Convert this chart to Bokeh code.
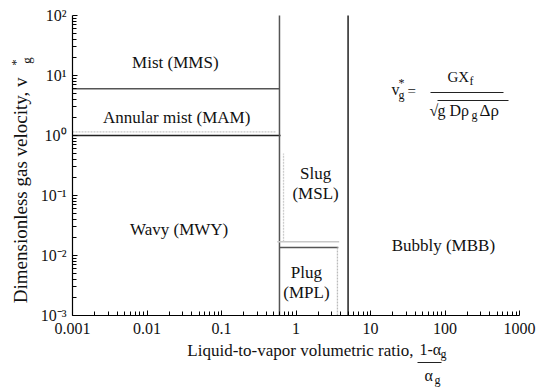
from bokeh.plotting import figure
from bokeh.models import FixedTicker, Label, ColumnDataSource, LogAxis
from bokeh.core.properties import value
from bokeh.embed import file_html
from bokeh.resources import INLINE

# Axis decades and their labels
x_ticks = [0.001, 0.01, 0.1, 1, 10, 100, 1000]
x_tick_labels = ["0.001", "0.01", "0.1", "1", "10", "100", "1000"]
y_ticks = [0.001, 0.01, 0.1, 1, 10, 100]
y_tick_labels = ["10\u207b\u00b3", "10\u207b\u00b2", "10\u207b\u00b9", "10\u2070", "10\u00b9", "10\u00b2"]

# Flow-regime boundaries (x = liquid-to-vapor volumetric ratio, y = v*_g)
mist_annular_y = 6.0
mist_annular_x = [0.001, 0.6]
annular_wavy_y = 1.0
annular_wavy_x = [0.001, 0.62]
annular_alt_y = 1.15
annular_alt_x = [0.001, 0.53]
wavy_slug_x = 0.6
wavy_slug_y = [0.001, 100]
slug_bubbly_x = 5.0
slug_bubbly_y = [0.001, 100]
plug_top_y = 0.0136
plug_top_x = [0.6, 3.7]
plug_alt_y = 0.017
plug_alt_x = [0.56, 3.8]
plug_right_x = 3.6
plug_right_y = [0.001, 0.0136]
slug_alt_x = 0.68
slug_alt_y = [0.017, 0.5]

# Regime names
regime_text = ["Mist (MMS)", "Annular mist (MAM)", "Wavy (MWY)", "Slug", "(MSL)",
               "Plug", "(MPL)", "Bubbly (MBB)"]
regime_x = [0.024, 0.025, 0.027, 1.83, 1.83, 1.38, 1.38, 95]
regime_y = [16.5, 2.0, 0.027, 0.233, 0.108, 0.0052, 0.0024, 0.0147]

SERIF = "Liberation Serif"

# page geometry: the plotting area spans the whole page and the axes sit
# inside it, so that the titles around them can be placed freely
W, H = 538, 387
LEFT, RIGHT, TOP, BOTTOM = 72, 519, 15, 315
DEC_X = (RIGHT - LEFT) / 6.0
DEC_Y = (BOTTOM - TOP) / 5.0
x_lo = 10 ** (-3 - LEFT / DEC_X)
x_hi = 10 ** (3 + (W - RIGHT) / DEC_X)
y_lo = 10 ** (-3 - (H - BOTTOM) / DEC_Y)
y_hi = 10 ** (2 + TOP / DEC_Y)

p = figure(width=W, height=H, x_axis_type="log", y_axis_type="log",
           x_axis_location=None, y_axis_location=None,
           x_range=(x_lo, x_hi), y_range=(y_lo, y_hi),
           output_backend="svg", toolbar_location=None, min_border=0)
p.outline_line_color = None
p.grid.visible = False
p.background_fill_color = "white"
p.border_fill_color = "white"

x_minor = [m * d for d in x_ticks[:-1] for m in range(2, 10)]
y_minor = [m * d for d in y_ticks[:-1] for m in range(2, 10)]
xaxis = LogAxis(fixed_location=y_ticks[0], bounds=(x_ticks[0], x_ticks[-1]),
                ticker=FixedTicker(ticks=x_ticks, minor_ticks=x_minor),
                major_label_overrides=dict(zip(x_ticks, x_tick_labels)))
yaxis = LogAxis(fixed_location=x_ticks[0], bounds=(y_ticks[0], y_ticks[-1]),
                ticker=FixedTicker(ticks=y_ticks, minor_ticks=y_minor),
                major_label_overrides=dict(zip(y_ticks, y_tick_labels)))
for ax in (xaxis, yaxis):
    ax.axis_line_color = "black"
    ax.axis_line_width = 1.2
    ax.major_tick_in = 5
    ax.major_tick_out = 0
    ax.minor_tick_in = 4
    ax.minor_tick_out = 0
    ax.major_tick_line_color = "black"
    ax.minor_tick_line_color = "black"
    ax.major_label_text_font = SERIF
    ax.major_label_text_font_size = "16px"
    ax.major_label_text_color = "#111111"
xaxis.major_label_standoff = 7
yaxis.major_label_standoff = 6
p.add_layout(xaxis, "below")
p.add_layout(yaxis, "left")

# boundaries
p.line(mist_annular_x, [mist_annular_y] * 2, line_color="#555555", line_width=1.5)
p.line(annular_wavy_x, [annular_wavy_y] * 2, line_color="#222222", line_width=1.6)
p.line(annular_alt_x, [annular_alt_y] * 2, line_color="#c8c8c8", line_width=1.3, line_dash="2 1")
p.line([wavy_slug_x] * 2, wavy_slug_y, line_color="#555555", line_width=1.5)
p.line([slug_bubbly_x] * 2, slug_bubbly_y, line_color="#111111", line_width=1.4)
p.line(plug_top_x, [plug_top_y] * 2, line_color="#555555", line_width=1.6)
p.line(plug_alt_x, [plug_alt_y] * 2, line_color="#c8c8c8", line_width=1.5)
p.line([plug_right_x] * 2, plug_right_y, line_color="#bbbbbb", line_width=1.3, line_dash="2 1")
p.line([slug_alt_x] * 2, slug_alt_y, line_color="#cccccc", line_width=1.3, line_dash="2 1")

# regime names
src = ColumnDataSource(dict(x=regime_x, y=regime_y, t=regime_text))
p.text(x="x", y="y", text="t", source=src, text_font=value(SERIF),
       text_font_size="17px", text_align="center", text_baseline="middle",
       text_color="#111111")


def lab(px, py, text, size="14px", align="left", angle=0.0):
    # px, py: page pixels from the top-left corner
    p.add_layout(Label(x=px, y=H - py, x_units="screen", y_units="screen",
                       text=text, text_font=SERIF,
                       text_font_size=size, text_align=align,
                       text_baseline="middle", angle=angle,
                       text_color="#111111"))


def hrule(px0, px1, py):
    # thin horizontal stroke for fraction bars and the radical's overline
    yv = 10 ** (2 - (py - TOP) / DEC_Y)
    p.segment(x0=[10 ** ((px0 - LEFT) / DEC_X - 3)], y0=[yv],
              x1=[10 ** ((px1 - LEFT) / DEC_X - 3)], y1=[yv],
              line_color="#222222", line_width=1)


# defining relation for v*_g
lab(391, 89, "v", "16px")
lab(398, 82, "*", "12px")
lab(398, 94, "g", "12px")
lab(407, 90, "=", "15px")
lab(447, 76, "GX", "15px")
lab(469, 80, "f", "12px")
hrule(430, 503, 92)
lab(429, 110, "\u221a", "16px")
lab(437, 110, "g D\u03c1", "16px")
lab(471, 114, "g", "12px")
lab(479, 110, "\u0394\u03c1", "17px")
hrule(437, 508, 100)

# x-axis title with the ratio (1-alpha_g)/alpha_g
lab(413, 350, "Liquid-to-vapor volumetric ratio,", "17px", align="right")
lab(419, 349, "1-\u03b1", "16px")
lab(440, 353, "g", "12px")
hrule(417, 441, 362)
lab(424, 375, "\u03b1", "16px")
lab(434, 379, "g", "12px")

# y-axis title: "Dimensionless gas velocity, v*_g"
HALF_PI = 1.5707963
lab(20, 77, "Dimensionless gas velocity, v", "19px", align="right", angle=HALF_PI)
lab(15, 62, "*", "13px", align="center", angle=HALF_PI)
lab(26, 60, "g", "13px", align="center", angle=HALF_PI)

open("out.html", "w").write(file_html(p, INLINE))
